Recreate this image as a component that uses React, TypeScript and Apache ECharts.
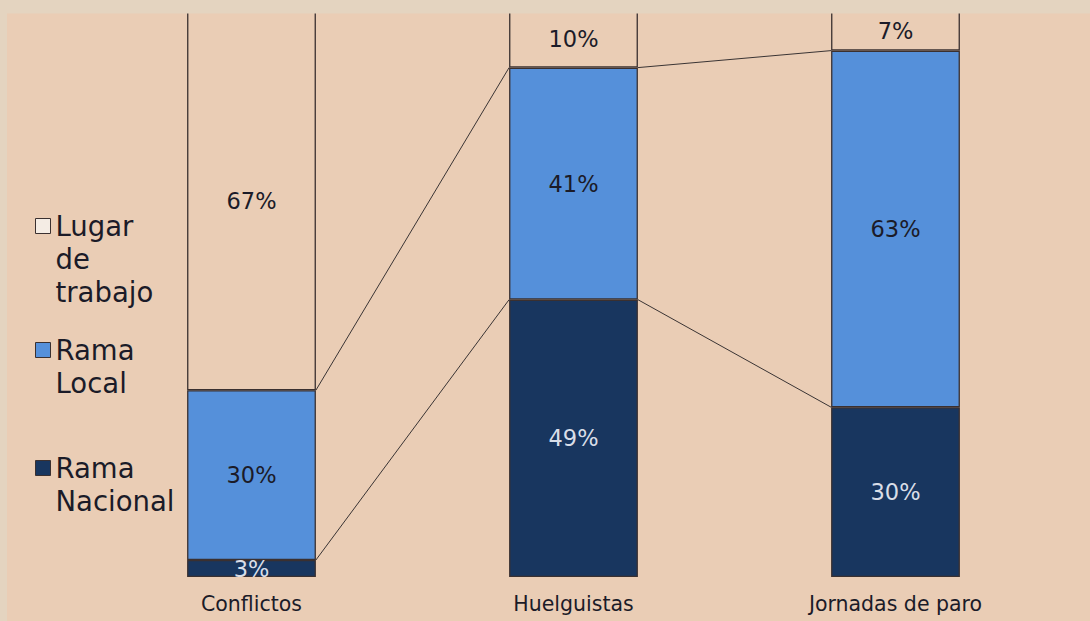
import React, { useEffect, useRef } from "react";
import * as echarts from "echarts";

const categories = ["Conflictos", "Huelguistas", "Jornadas de paro"];
const seriesNames = ["Rama Nacional", "Rama Local", "Lugar de trabajo"];
const nacional = [3, 49, 30];
const local = [30, 41, 63];
const lugar = [67, 10, 7];
const legendLines: Record<string, string[]> = {
  "Lugar de trabajo": ["Lugar", "de", "trabajo"],
  "Rama Local": ["Rama", "Local"],
  "Rama Nacional": ["Rama", "Nacional"],
};

const FONT = "DejaVu Sans, Verdana, sans-serif";
const DARK_TEXT = "#1b1b28";
const LIGHT_TEXT = "#d9dee8";
const BORDER = "#3a3030";
const BLUE = "#5590da";
const NAVY = "#18365f";
const PEACH = "#eacdb5";
const OUTER = "#e4d4c0";
const LH = 33;

export default function App() {
  const ref = useRef<HTMLDivElement>(null);
  useEffect(() => {
    if (!ref.current) return;
    const chart = echarts.init(ref.current, null, { renderer: "svg" });

    const connectors = [0, 1].map((i) => [
      i,
      nacional[i],
      nacional[i] + local[i],
      nacional[i + 1],
      nacional[i + 1] + local[i + 1],
    ]);

    const makeLegend = (name: string, iconTop: number, fill: string) => {
      const n = legendLines[name].length;
      const total = 2 * n - 1;
      const boxH = total * LH;
      return {
        data: [{ name, itemStyle: { color: fill, borderColor: BORDER, borderWidth: 1 } }],
        orient: "vertical",
        left: 35,
        top: iconTop + 7 - boxH / 2,
        padding: 0,
        icon: "rect",
        itemWidth: 15,
        itemHeight: 15,
        itemGap: 0,
        selectedMode: false,
        formatter: (nm: string) => {
          const lines = legendLines[nm];
          return new Array(lines.length - 1).fill(" ").concat(lines).join("\n");
        },
        textStyle: {
          fontFamily: FONT,
          fontSize: 27.5,
          color: DARK_TEXT,
          lineHeight: LH,
        },
      };
    };

    const labelBase = {
      show: true,
      position: "inside",
      fontFamily: FONT,
      fontSize: 22.5,
      formatter: (p: any) => p.value + "%",
    };

    chart.setOption({
      animation: false,
      backgroundColor: OUTER,
      graphic: [
        {
          type: "rect",
          z: -10,
          shape: { x: 7, y: 13, width: 1083, height: 608 },
          style: { fill: PEACH },
          silent: true,
        },
        {
          type: "rect",
          z: 100,
          zlevel: 1,
          shape: { x: 0, y: 0, width: 1090, height: 13.5 },
          style: { fill: OUTER },
          silent: true,
        },
      ],
      legend: [
        makeLegend("Lugar de trabajo", 219, "#f4ece4"),
        makeLegend("Rama Local", 343, BLUE),
        makeLegend("Rama Nacional", 461, NAVY),
      ],
      grid: { left: 90.5, right: 33.5, top: 11, bottom: 44 },
      xAxis: {
        type: "category",
        data: categories,
        axisLine: { show: false },
        axisTick: { show: false },
        axisLabel: { fontFamily: FONT, fontSize: 20.5, color: DARK_TEXT, margin: 16 },
      },
      yAxis: { type: "value", min: 0, max: 100, show: false, splitLine: { show: false } },
      series: [
        {
          name: seriesNames[0],
          type: "bar",
          stack: "s",
          barWidth: "40%",
          data: nacional,
          itemStyle: { color: NAVY, borderColor: BORDER, borderWidth: 1.3 },
          label: { ...labelBase, color: LIGHT_TEXT },
        },
        {
          name: seriesNames[1],
          type: "bar",
          stack: "s",
          barWidth: "40%",
          data: local,
          itemStyle: { color: BLUE, borderColor: BORDER, borderWidth: 1.3 },
          label: { ...labelBase, color: DARK_TEXT },
        },
        {
          name: seriesNames[2],
          type: "bar",
          stack: "s",
          barWidth: "40%",
          data: lugar,
          itemStyle: { color: "rgba(0,0,0,0)", borderColor: BORDER, borderWidth: 1.3 },
          label: { ...labelBase, color: DARK_TEXT },
        },
        {
          type: "custom",
          name: "connectors",
          data: connectors,
          silent: true,
          z: 3,
          renderItem: (params: any, api: any) => {
            const i = api.value(0);
            const half = api.size([1, 0])[0] * 0.2;
            const a1 = api.coord([i, api.value(1)]);
            const a2 = api.coord([i, api.value(2)]);
            const b1 = api.coord([i + 1, api.value(3)]);
            const b2 = api.coord([i + 1, api.value(4)]);
            const style = { stroke: "#3a3434", lineWidth: 1 };
            return {
              type: "group",
              children: [
                { type: "line", shape: { x1: a1[0] + half, y1: a1[1], x2: b1[0] - half, y2: b1[1] }, style },
                { type: "line", shape: { x1: a2[0] + half, y1: a2[1], x2: b2[0] - half, y2: b2[1] }, style },
              ],
            };
          },
        },
      ],
    });
    return () => chart.dispose();
  }, []);
  return <div ref={ref} style={{ width: 1090, height: 621, position: "absolute", left: 0, top: 0 }} />;
}
